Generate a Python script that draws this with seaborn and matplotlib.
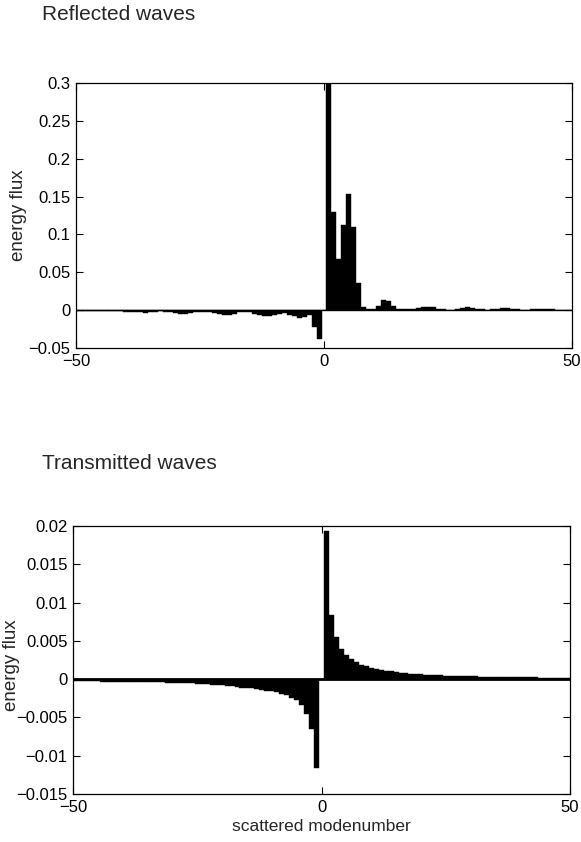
import numpy as np
import pandas as pd
import matplotlib
matplotlib.use("Agg")
import matplotlib.pyplot as plt
from matplotlib.ticker import FuncFormatter, FixedLocator
import seaborn as sns

# ---------------- data ----------------
modes = list(range(-50, 51))

reflected_neg = [-0.0005, -0.0008, -0.001, -0.001, -0.0008, -0.0012, -0.0015, -0.0012, -0.001, -0.0015,
                 -0.002, -0.002, -0.0025, -0.003, -0.0035, -0.003, -0.002, -0.0015, -0.002, -0.003,
                 -0.004, -0.0045, -0.0045, -0.004, -0.003, -0.002, -0.002, -0.003, -0.004, -0.005,
                 -0.006, -0.006, -0.005, -0.003, -0.002, -0.003, -0.005, -0.007, -0.008, -0.008,
                 -0.007, -0.005, -0.004, -0.006, -0.008, -0.01, -0.009, -0.006, -0.022, -0.038]
reflected_zero = [0.0]
reflected_pos = [0.32, 0.13, 0.068, 0.113, 0.154, 0.11, 0.036, 0.004, 0.001, 0.001,
                 0.006, 0.014, 0.012, 0.006, 0.002, 0.001, 0.001, 0.002, 0.003, 0.004,
                 0.004, 0.004, 0.002, 0.001, 0.0005, 0.0005, 0.001, 0.003, 0.004, 0.003,
                 0.0015, 0.001, 0.0005, 0.001, 0.002, 0.0025, 0.0025, 0.002, 0.001, 0.0008,
                 0.0008, 0.001, 0.0015, 0.002, 0.002, 0.001, 0.0005, 0.0005, 0.0003, 0.0002]
reflected_flux = reflected_neg + reflected_zero + reflected_pos

transmitted_neg = [-0.00028, -0.00028, -0.00029, -0.00029, -0.0003, -0.0003, -0.00031, -0.00031, -0.00032, -0.00032,
                   -0.00033, -0.00034, -0.00035, -0.00036, -0.00037, -0.00038, -0.00039, -0.0004, -0.00042, -0.00044,
                   -0.00046, -0.00048, -0.0005, -0.00052, -0.00055, -0.00058, -0.00062, -0.00066, -0.0007, -0.00075,
                   -0.0008, -0.00085, -0.00092, -0.001, -0.0011, -0.00115, -0.0012, -0.0013, -0.0014, -0.0015,
                   -0.0016, -0.0017, -0.0019, -0.0021, -0.0024, -0.0027, -0.0034, -0.0045, -0.0065, -0.0116]
transmitted_zero = [0.0]
transmitted_pos = [0.0193, 0.0084, 0.0055, 0.004, 0.0031, 0.0026, 0.0022, 0.0019, 0.0017, 0.0015,
                   0.0013, 0.0012, 0.0011, 0.001, 0.00092, 0.00085, 0.00078, 0.00072, 0.00067, 0.00063,
                   0.00059, 0.00056, 0.00053, 0.0005, 0.00047, 0.00045, 0.00043, 0.00041, 0.00039, 0.00037,
                   0.00035, 0.00034, 0.00032, 0.00031, 0.0003, 0.00029, 0.00028, 0.00027, 0.00026, 0.00025,
                   0.00024, 0.00023, 0.00022, 0.00021, 0.0002, 0.0002, 0.00019, 0.00018, 0.00018, 0.00017]
transmitted_flux = transmitted_neg + transmitted_zero + transmitted_pos

x_ticks = [-50, 0, 50]
top_yticks = [-0.05, 0, 0.05, 0.1, 0.15, 0.2, 0.25, 0.3]
bottom_yticks = [-0.015, -0.01, -0.005, 0, 0.005, 0.01, 0.015, 0.02]

titles = ["Reflected waves", "Transmitted waves"]
ylabel_text = "energy flux"
xlabel_text = "scattered modenumber"

df_top = pd.DataFrame({"mode": modes, "flux": reflected_flux})
df_bot = pd.DataFrame({"mode": modes, "flux": transmitted_flux})

# ---------------- style ----------------
sns.set_style("ticks")
plt.rcParams["font.family"] = ["Liberation Sans", "DejaVu Sans"]
plt.rcParams["xtick.direction"] = "in"
plt.rcParams["ytick.direction"] = "in"

W, H = 581, 842
fig = plt.figure(figsize=(W / 100, H / 100), dpi=100)
fig.patch.set_facecolor("white")


def px_axes(left, right, top, bottom):
    return fig.add_axes([left / W, 1 - bottom / H, (right - left) / W, (bottom - top) / H])


ax1 = px_axes(76, 572, 83, 348)
ax2 = px_axes(73, 570, 526, 794)

fmt = FuncFormatter(lambda v, p: ("%g" % v).replace("-", "\u2212"))

for ax, df, yt, ylim, zlw in [
    (ax1, df_top, top_yticks, (-0.05, 0.3), 1.0),
    (ax2, df_bot, bottom_yticks, (-0.015, 0.02), 2.0),
]:
    sns.barplot(data=df, x="mode", y="flux", native_scale=True, width=1.0,
                color="black", saturation=1, edgecolor="black", linewidth=0.3,
                errorbar=None, ax=ax)
    ax.axhline(0, color="black", lw=zlw, zorder=3)
    ax.set_xlim(-50, 50)
    ax.set_ylim(*ylim)
    ax.xaxis.set_major_locator(FixedLocator(x_ticks))
    ax.yaxis.set_major_locator(FixedLocator(yt))
    ax.yaxis.set_major_formatter(fmt)
    ax.xaxis.set_major_formatter(fmt)
    ax.tick_params(axis="both", which="major", labelsize=12, length=5, width=0.8,
                   top=True, right=True, pad=4, colors="black")
    for s in ax.spines.values():
        s.set_visible(True)
        s.set_linewidth(0.9)
        s.set_color("black")
    ax.set_xlabel("")
    ax.set_ylabel(ylabel_text, fontsize=13.5)

ax1.yaxis.set_label_coords((27 - 76) / 496, 0.5)
ax2.yaxis.set_label_coords((20 - 73) / 497, 0.48)
ax2.set_xlabel(xlabel_text, fontsize=12.5, labelpad=3)

fig.text(42 / W, 1 - 15 / H, titles[0], fontsize=15, va="center", ha="left")
fig.text(42 / W, 1 - 463 / H, titles[1], fontsize=15, va="center", ha="left")

fig.savefig("out.png", dpi=100, facecolor="white")
